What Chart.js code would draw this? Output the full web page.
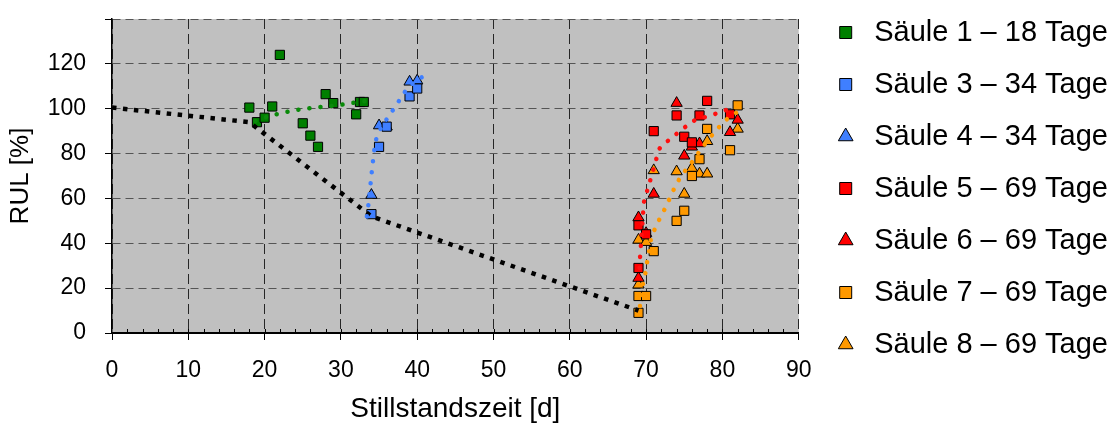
<!DOCTYPE html>
<html>
<head>
<meta charset="utf-8">
<script src="https://cdn.jsdelivr.net/npm/chart.js@4.4.0/dist/chart.umd.min.js"></script>
<style>
  html, body { margin: 0; padding: 0; background: #fff; }
  #wrap { width: 1119px; height: 424px; }
</style>
</head>
<body>
<div id="wrap"><canvas id="chart"></canvas></div>
<script>
// Measured points: Stillstandszeit [d] vs. RUL [%]
const s1Days = [18, 19, 20, 21, 22, 25, 26, 27, 28, 29, 32, 32.5, 33];
const s1Rul = [100.5, 94, 96, 101, 124, 93.5, 88, 83, 106.5, 102.5, 97.5, 103, 103];

const s3Days = [34, 35, 36, 39, 40];
const s3Rul = [53, 83, 92, 105.5, 109];

const s4Days = [34, 35, 36, 39, 40];
const s4Rul = [61.5, 92.5, 92, 112, 112.5];

const s5Days = [69, 69, 70, 71, 74, 75, 76, 77, 78, 81];
const s5Rul = [48, 29, 44, 90, 97, 87.5, 85, 97, 103.5, 97.5];

const s6Days = [69, 69, 70, 71, 74, 75, 76, 77, 81, 82];
const s6Rul = [51.5, 24.5, 44.5, 62, 102.5, 79, 83, 84.5, 89.5, 95];

const s7Days = [69, 69, 70, 71, 74, 75, 76, 77, 78, 81, 82];
const s7Rul = [9, 16.5, 16.5, 36.5, 50, 54.5, 70, 77.5, 91, 81.5, 101.5];

const s8Days = [69, 69, 70, 71, 74, 75, 76, 77, 78, 78, 82];
const s8Rul = [21.5, 41.5, 40.5, 72.5, 72, 62, 73.5, 71, 71, 85.5, 91];

// Dotted trend curves
const greenTrendDays = [18.8, 20.6, 22.1, 23.5, 24.9, 26.4, 27.8, 29.3, 30.7, 32.1, 33.6];
const greenTrendRul = [94.5, 96.7, 97.9, 99, 99.8, 100.4, 100.9, 101.4, 102.1, 102.9, 103.6];

const blueTrendDays = [33.4, 33.6, 33.9, 34.2, 34.6, 35.2, 36, 36.8, 37.6, 38.4, 39.5, 40.6];
const blueTrendRul = [52, 57, 67, 76.5, 86, 91, 95.3, 99.3, 103.4, 107.6, 111.5, 114];

const redTrendDays = [69.15, 69.2, 69.3, 69.4, 69.6, 69.7, 70.1, 70.5, 70.9, 71.3, 71.7, 72.7, 73.8, 75, 76.1, 77.5, 78.9, 80.3, 81.6];
const redTrendRul = [29, 33.3, 38.3, 43.2, 53.2, 58, 62.9, 67.6, 72.4, 77.1, 81.9, 85.2, 88.3, 91.5, 94.4, 96, 97.5, 99.2, 100.6];

const orangeTrendDays = [69.2, 69.4, 69.7, 70, 70.2, 70.5, 70.7, 71.3, 71.9, 72.6, 73.2, 73.8, 74.5, 75.4, 76.3, 77.1, 78.9, 79.9, 80.9, 82.2];
const orangeTrendRul = [12, 18.7, 23.5, 28.4, 33.1, 38.2, 42.9, 47.4, 51.8, 56.3, 60.8, 65.2, 69.4, 73.6, 77.4, 81.5, 89.3, 93, 96.2, 99];

// Black dotted line
const lossDays = [0, 18, 34, 69];
const lossRul = [100.5, 94, 52, 10];

const FONT = 'Liberation Sans, Arial, Helvetica, sans-serif';
Chart.defaults.font.family = FONT;
Chart.defaults.color = '#000';

const pts = (xs, ys) => xs.map((x, i) => ({ x: x, y: ys[i] }));

function marker(label, xs, ys, color, style) {
  return {
    type: 'scatter',
    label: label,
    data: pts(xs, ys),
    pointStyle: style,
    pointRadius: 6.5,
    pointHoverRadius: 6.5,
    backgroundColor: color,
    borderColor: '#000',
    borderWidth: 1,
    order: 1
  };
}

function trend(label, xs, ys, color) {
  return {
    type: 'line',
    label: label,
    data: pts(xs, ys),
    pointRadius: 0,
    borderColor: color,
    borderWidth: 4.5,
    borderCapStyle: 'round',
    borderDash: [0.1, 11],
    tension: 0.3,
    fill: false,
    order: 0
  };
}

// grey plot area
const plotBg = {
  id: 'plotBg',
  beforeDraw(chart) {
    const { ctx, chartArea: a } = chart;
    ctx.save();
    ctx.fillStyle = '#c0c0c0';
    ctx.fillRect(a.left, a.top, a.width, a.height);
    ctx.restore();
  }
};

// small inner tick marks every 2 days on the x axis
const minorTicks = {
  id: 'minorTicks',
  beforeDatasetsDraw(chart) {
    const ctx = chart.ctx;
    const xs = chart.scales.x;
    const b = chart.chartArea.bottom;
    ctx.save();
    ctx.strokeStyle = '#000';
    ctx.lineWidth = 1;
    ctx.beginPath();
    for (let v = 2; v < 90; v += 2) {
      const px = Math.round(xs.getPixelForValue(v)) + 0.5;
      ctx.moveTo(px, b);
      ctx.lineTo(px, b - 4);
    }
    ctx.stroke();
    ctx.restore();
  }
};

// move the legend a little to match the original placement
const legendNudge = {
  id: 'legendNudge',
  afterLayout(chart) {
    const l = chart.legend;
    l.left += 10; l.right += 10;
    l.top -= 5; l.bottom -= 5;
  }
};

const isMajorX = c => c.tick && c.tick.value % 10 === 0;

new Chart(document.getElementById('chart'), {
  type: 'scatter',
  data: {
    datasets: [
      marker('Säule 1 – 18 Tage', s1Days, s1Rul, '#008000', 'rect'),
      marker('Säule 3 – 34 Tage', s3Days, s3Rul, '#3f7fff', 'rect'),
      marker('Säule 4 – 34 Tage', s4Days, s4Rul, '#3f7fff', 'triangle'),
      marker('Säule 5 – 69 Tage', s5Days, s5Rul, '#ff0000', 'rect'),
      marker('Säule 6 – 69 Tage', s6Days, s6Rul, '#ff0000', 'triangle'),
      marker('Säule 7 – 69 Tage', s7Days, s7Rul, '#ff9900', 'rect'),
      marker('Säule 8 – 69 Tage', s8Days, s8Rul, '#ff9900', 'triangle'),
      trend('Trend 1', greenTrendDays, greenTrendRul, '#0a8a0a'),
      trend('Trend 3/4', blueTrendDays, blueTrendRul, '#3f7fff'),
      trend('Trend 5/6', redTrendDays, redTrendRul, '#ff1010'),
      trend('Trend 7/8', orangeTrendDays, orangeTrendRul, '#ff9900'),
      {
        type: 'line',
        label: 'Verlauf',
        data: pts(lossDays, lossRul),
        pointRadius: 0,
        borderColor: '#000',
        borderWidth: 4.5,
        borderCapStyle: 'butt',
        borderDash: [4.5, 6.5],
        tension: 0,
        fill: false,
        order: 0
      }
    ]
  },
  options: {
    responsive: true,
    maintainAspectRatio: false,
    animation: false,
    devicePixelRatio: 1,
    layout: { padding: { top: 0, right: 11, bottom: 0, left: 0 } },
    plugins: {
      tooltip: { enabled: false },
      legend: {
        position: 'right',
        align: 'start',
        maxWidth: 500,
        labels: {
          usePointStyle: true,
          boxWidth: 28,
          boxHeight: 12,
          padding: 23,
          color: '#000',
          font: { size: 29, family: FONT },
          filter: item => item.datasetIndex < 7
        }
      }
    },
    scales: {
      x: {
        type: 'linear',
        position: 'bottom',
        min: 0,
        max: 90,
        ticks: {
          stepSize: 2,
          autoSkip: false,
          maxRotation: 0,
          padding: 17,
          color: '#000',
          font: { size: 23 },
          callback: v => (v % 10 === 0 ? v : '')
        },
        grid: {
          color: c => (isMajorX(c) ? '#262626' : 'rgba(0,0,0,0)'),
          tickColor: c => (isMajorX(c) ? '#000' : 'rgba(0,0,0,0)'),
          tickLength: 7,
          lineWidth: 1
        },
        border: { color: '#000', width: 2, dash: [10, 5] },
        title: {
          display: true,
          text: 'Stillstandszeit [d]',
          color: '#000',
          font: { size: 28, lineHeight: 1 },
          padding: { top: 0, bottom: 1 }
        },
        afterFit(s) {
          s.height = 91;
          s.paddingLeft = 0;
          s.paddingRight = 0;
        }
      },
      y: {
        min: 0,
        max: 140,
        ticks: {
          stepSize: 20,
          padding: 19,
          color: '#000',
          font: { size: 23 },
          callback: v => (v === 140 ? '' : v)
        },
        grid: {
          color: '#555',
          tickColor: '#000',
          tickLength: 7,
          lineWidth: 1
        },
        border: { color: '#000', width: 1.5, dash: [8, 5] },
        title: {
          display: true,
          text: 'RUL [%]',
          color: '#000',
          font: { size: 26, lineHeight: 1 },
          padding: { top: 8, bottom: 0 }
        },
        afterFit(s) {
          s.width = 112;
          s.paddingTop = 19;
          s.paddingBottom = 0;
        }
      }
    }
  },
  plugins: [plotBg, minorTicks, legendNudge]
});
</script>
</body>
</html>
